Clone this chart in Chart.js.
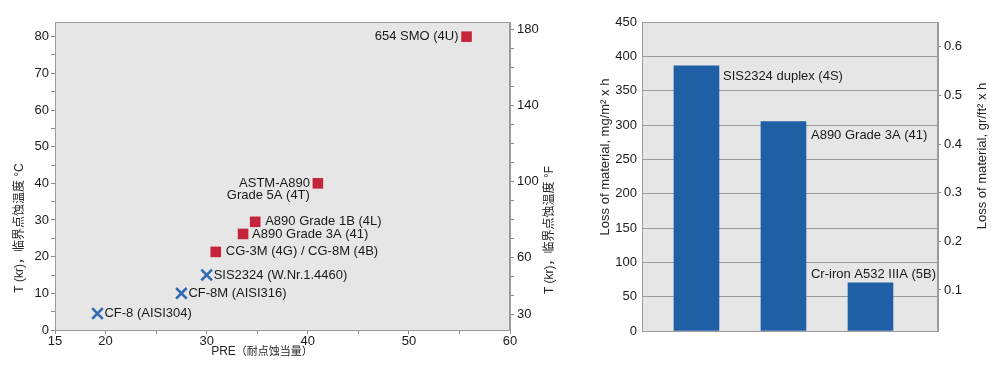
<!DOCTYPE html>
<html>
<head>
<meta charset="utf-8">
<script src="https://cdn.jsdelivr.net/npm/chart.js@4/dist/chart.umd.min.js"></script>
<style>
  body { margin: 0; background: #fff; }
  #wrap { position: relative; width: 1002px; height: 366px; }
  #cpt { position: absolute; left: 0; top: 0; }
  #loss { position: absolute; left: 570px; top: 0; }
</style>
</head>
<body>
<div id="wrap">
  <canvas id="cpt" width="570" height="366"></canvas>
  <canvas id="loss" width="432" height="366"></canvas>
</div>
<script>
/* ===== left chart: critical pitting temperature vs PRE ===== */
const crossPre   = [19.2, 27.5, 30.0];
const crossTemp  = [4.5, 10, 15];
const crossNames = ['CF-8 (AISI304)', 'CF-8M (AISI316)', 'SIS2324 (W.Nr.1.4460)'];

const squarePre   = [30.9, 33.6, 34.8, 41.0, 55.7];
const squareTemp  = [21.3, 26.2, 29.5, 40, 80];
const squareNames = ['CG-3M (4G) / CG-8M (4B)', 'A890 Grade 3A (41)', 'A890 Grade 1B (4L)',
                     'ASTM-A890\nGrade 5A (4T)', '654 SMO (4U)'];

const preTicks      = [15, 20, 25, 30, 35, 40, 45, 50, 55, 60];
const preLabels     = [15, 20, 30, 40, 50, 60];
const celsiusTicks  = [0, 5, 10, 15, 20, 25, 30, 35, 40, 45, 50, 55, 60, 65, 70, 75, 80];
const celsiusLabels = [0, 10, 20, 30, 40, 50, 60, 70, 80];
const fahrTicks     = [30, 40, 50, 60, 70, 80, 90, 100, 110, 120, 130, 140, 150, 160, 170, 180];
const fahrLabels    = [30, 60, 100, 140, 180];

/* ===== right chart: loss of material ===== */
const alloys    = ['SIS2324 duplex (4S)', 'A890 Grade 3A (41)', 'Cr-iron A532 IIIA (5B)'];
const lossMg    = [386, 305, 70];
const mgTicks   = [0, 50, 100, 150, 200, 250, 300, 350, 400, 450];
const grTicks   = [0.1, 0.2, 0.3, 0.4, 0.5, 0.6];

// label placement (layout only)
const crossGap   = 7;
const squareSide = [10, 9, 10, -8, -8];        // +right of marker / -left of marker
const barLabelAt = [[4, 10], [5, 14], [-82, -9]]; // dx from bar right edge, dy from bar top

const FONT = "'Liberation Sans', Arial, 'Noto Sans CJK SC', sans-serif";
const INK = '#1a1a1a';
Chart.defaults.font.family = FONT;
Chart.defaults.font.size = 13;
Chart.defaults.color = INK;

const fixedTicks = list => scale => { scale.ticks = list.map(v => ({ value: v })); };
const sizeTo = px => scale => { if (scale.isHorizontal()) scale.height = px; else scale.width = px; };

// grey plot area + frame
const frame = {
    id: 'frame',
    beforeDraw(chart) {
        const a = chart.chartArea, ctx = chart.ctx;
        ctx.save();
        ctx.fillStyle = '#e6e6e6';
        ctx.fillRect(a.left, a.top, a.right - a.left, a.bottom - a.top);
        ctx.restore();
    },
    afterDraw(chart) {
        const a = chart.chartArea, ctx = chart.ctx;
        ctx.save();
        ctx.strokeStyle = '#9c9c9c';
        ctx.lineWidth = 1;
        ctx.strokeRect(a.left + 0.5, a.top + 0.5, a.right - a.left - 1, a.bottom - a.top);
        ctx.restore();
    }
};

// text made of segments with different fonts, centred on (cx, cy)
function drawRich(ctx, segs, cx, cy, rot) {
    ctx.save();
    ctx.translate(cx, cy);
    ctx.rotate(rot);
    ctx.textBaseline = 'middle';
    ctx.textAlign = 'left';
    ctx.fillStyle = '#262626';
    let total = 0;
    segs.forEach(s => { ctx.font = s.f; total += ctx.measureText(s.t).width; });
    let x = -total / 2;
    segs.forEach(s => { ctx.font = s.f; ctx.fillText(s.t, x, 0); x += ctx.measureText(s.t).width; });
    ctx.restore();
}

const titles = list => ({
    id: 'titles',
    afterDraw(chart) {
        list.forEach(t => drawRich(chart.ctx, t.segs, t.x, t.y, t.rot || 0));
    }
});

function drawLines(ctx, text, x, y, align) {
    ctx.textAlign = align;
    text.split('\n').forEach((line, i) => ctx.fillText(line, x, y + i * 12.5));
}

const pointLabels = {
    id: 'pointLabels',
    afterDatasetsDraw(chart) {
        const ctx = chart.ctx;
        ctx.save();
        ctx.font = '13px ' + FONT;
        ctx.fillStyle = INK;
        ctx.textBaseline = 'middle';
        chart.getDatasetMeta(0).data.forEach((p, i) => {
            drawLines(ctx, crossNames[i], p.x + crossGap, p.y, 'left');
        });
        chart.getDatasetMeta(1).data.forEach((p, i) => {
            const d = squareSide[i];
            drawLines(ctx, squareNames[i], p.x + d, p.y, d > 0 ? 'left' : 'right');
        });
        ctx.restore();
    }
};

new Chart(document.getElementById('cpt'), {
    type: 'scatter',
    data: {
        datasets: [{
            data: crossPre.map((x, i) => ({ x, y: crossTemp[i] })),
            pointStyle: 'crossRot',
            pointRadius: 7.5,
            borderWidth: 2.6,
            borderColor: '#2f6ab2',
            backgroundColor: '#2f6ab2'
        }, {
            data: squarePre.map((x, i) => ({ x, y: squareTemp[i] })),
            pointStyle: 'rect',
            pointRadius: 7.5,
            borderWidth: 0,
            backgroundColor: '#c4253a'
        }]
    },
    options: {
        responsive: false,
        devicePixelRatio: 1,
        animation: false,
        events: [],
        layout: { padding: { top: 22, left: 0, right: 0, bottom: 0 } },
        plugins: { legend: { display: false }, tooltip: { enabled: false } },
        scales: {
            x: {
                type: 'linear', min: 15, max: 60,
                afterBuildTicks: fixedTicks(preTicks),
                afterFit: sizeTo(36),
                grid: { drawOnChartArea: false, tickLength: 4, color: '#8a8a8a' },
                border: { color: '#9c9c9c' },
                ticks: { autoSkip: false, maxRotation: 0, padding: 0, font: { size: 13 },
                         callback: v => preLabels.includes(v) ? String(v) : '' }
            },
            y: {
                position: 'left', min: 0, max: 84,
                afterBuildTicks: fixedTicks(celsiusTicks),
                afterFit: sizeTo(55),
                grid: { drawOnChartArea: false, tickLength: 4, color: '#8a8a8a' },
                border: { color: '#9c9c9c' },
                ticks: { autoSkip: false, padding: 2, font: { size: 13 },
                         callback: v => celsiusLabels.includes(v) ? String(v) : '' }
            },
            y2: {
                position: 'right', min: 22, max: 184,
                afterBuildTicks: fixedTicks(fahrTicks),
                afterFit: sizeTo(60),
                grid: { drawOnChartArea: false, tickLength: 4, color: '#8a8a8a' },
                border: { color: '#9c9c9c' },
                ticks: { autoSkip: false, padding: 3, font: { size: 13 },
                         callback: v => fahrLabels.includes(v) ? String(v) : '' }
            }
        }
    },
    plugins: [frame, pointLabels, titles([
        { segs: [{ t: 'T (kr)，临界点蚀温度 °C', f: '12px ' + FONT }], x: 20, y: 228, rot: -Math.PI / 2 },
        { segs: [{ t: 'T (kr)，临界点蚀温度 °F', f: '12px ' + FONT }], x: 550, y: 230, rot: -Math.PI / 2 },
        { segs: [{ t: 'PRE', f: '12px ' + FONT }, { t: '（耐点蚀当量）', f: '11px ' + FONT }], x: 262, y: 352 }
    ])]
});

const barLabels = {
    id: 'barLabels',
    afterDatasetsDraw(chart) {
        const ctx = chart.ctx;
        ctx.save();
        ctx.font = '13px ' + FONT;
        ctx.fillStyle = INK;
        ctx.textBaseline = 'middle';
        ctx.textAlign = 'left';
        chart.getDatasetMeta(0).data.forEach((b, i) => {
            const [dx, dy] = barLabelAt[i];
            ctx.fillText(alloys[i], b.x + b.width / 2 + dx, b.y + dy);
        });
        ctx.restore();
    }
};

new Chart(document.getElementById('loss'), {
    type: 'bar',
    data: {
        datasets: [{
            data: lossMg.map((y, i) => ({ x: i + 1, y })),
            backgroundColor: '#1f5fa6',
            barThickness: 45,
            yAxisID: 'y'
        }]
    },
    options: {
        responsive: false,
        devicePixelRatio: 1,
        animation: false,
        events: [],
        layout: { padding: { top: 22, left: 0, right: 0, bottom: 35 } },
        plugins: { legend: { display: false }, tooltip: { enabled: false } },
        scales: {
            x: { type: 'linear', min: 0.374, max: 3.776, offset: false, display: false },
            y: {
                position: 'left', min: 0, max: 450,
                afterBuildTicks: fixedTicks(mgTicks),
                afterFit: sizeTo(72),
                grid: { color: '#9a9a9a', drawTicks: false },
                border: { color: '#9c9c9c' },
                ticks: { autoSkip: false, padding: 5, font: { size: 13 } }
            },
            y2: {
                position: 'right', min: 0.0156, max: 0.651,
                afterBuildTicks: fixedTicks(grTicks),
                afterFit: sizeTo(64),
                grid: { drawOnChartArea: false, tickLength: 3, color: '#8a8a8a' },
                border: { color: '#9c9c9c' },
                ticks: { autoSkip: false, padding: 3, font: { size: 13 },
                         callback: v => v.toFixed(1) }
            }
        }
    },
    plugins: [frame, barLabels, titles([
        { segs: [{ t: 'Loss of material, mg/m² x h', f: '13px ' + FONT }], x: 35, y: 157, rot: -Math.PI / 2 },
        { segs: [{ t: 'Loss of material, gr/ft² x h', f: '13px ' + FONT }], x: 412, y: 156, rot: -Math.PI / 2 }
    ])]
});
</script>
</body>
</html>
